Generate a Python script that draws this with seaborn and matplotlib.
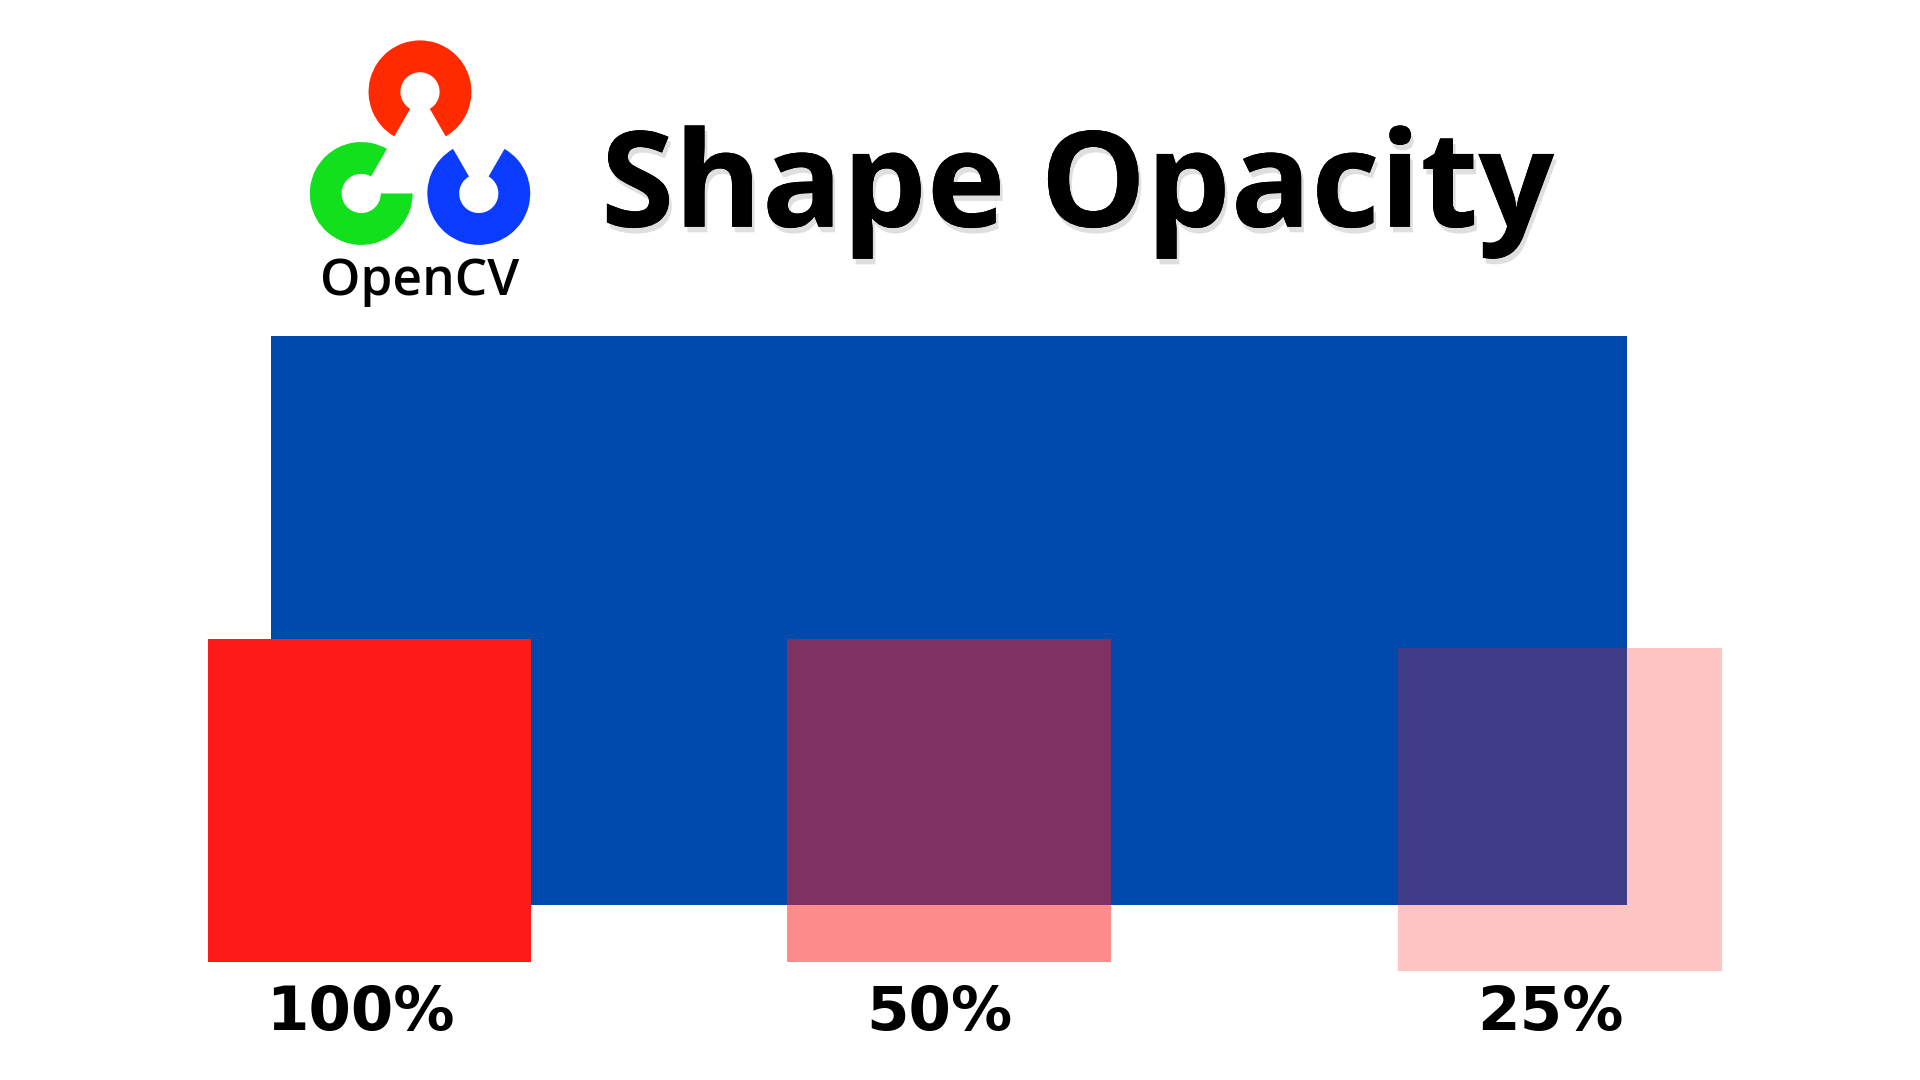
import matplotlib
matplotlib.use("Agg")
import matplotlib.pyplot as plt
import matplotlib.patheffects as pe
from matplotlib.patches import Rectangle, Wedge
import seaborn as sns

# canvas units (top-left origin)
W, H = 1568, 882

# background blue rectangle: x, y, width, height
blue_rect = (221, 274, 1108, 465)
blue_color = "#004AAD"

# red squares with opacity
labels = ["100%", "50%", "25%"]
alphas = [1.0, 0.5, 0.25]
sq_x = [170, 643, 1142]
sq_y = [522, 522, 529]
sq_size = [264, 264, 264]
red_color = "#FF1A1A"

# logo rings: center x, center y, colour, wedge angles (y axis inverted)
ring_cx = [343, 295, 391]
ring_cy = [75, 158, 158]
ring_colors = ["#FF2A00", "#12E01C", "#0A3BFF"]
ring_theta = [(120, 60), (0, 300), (300, 240)]

sns.set_theme(style="white")
plt.rcParams["font.family"] = ["Open Sans", "DejaVu Sans"]

fig = plt.figure(figsize=(19.2, 10.8), dpi=100)
ax = fig.add_axes([0, 0, 1, 1])
ax.set_xlim(0, W)
ax.set_ylim(H, 0)
ax.axis("off")

bx, by, bw, bh = blue_rect
ax.add_patch(Rectangle((bx, by), bw, bh, color=blue_color, lw=0))

for x, y, s, a, lab in zip(sq_x, sq_y, sq_size, alphas, labels):
    ax.add_patch(Rectangle((x, y), s, s, facecolor=red_color, alpha=a, lw=0))
    ax.text(x + s / 2 - 8, 828, lab, ha="center", va="center",
            fontsize=44, fontweight="bold", color="black", family="DejaVu Sans")

for cx, cy, c, (t1, t2) in zip(ring_cx, ring_cy, ring_colors, ring_theta):
    ax.add_patch(Wedge((cx, cy), 42, t1, t2, width=26, color=c, lw=0))

ax.text(343, 230, "OpenCV", ha="center", va="center", fontsize=37,
        fontweight="semibold", color="black")

ax.text(880, 157, "Shape Opacity", ha="center", va="center", fontsize=96,
        fontweight="bold", color="black",
        path_effects=[pe.withSimplePatchShadow(offset=(2, -4), shadow_rgbFace="gray", alpha=0.25),
                      pe.Normal()])

fig.savefig("out.png", dpi=100)
